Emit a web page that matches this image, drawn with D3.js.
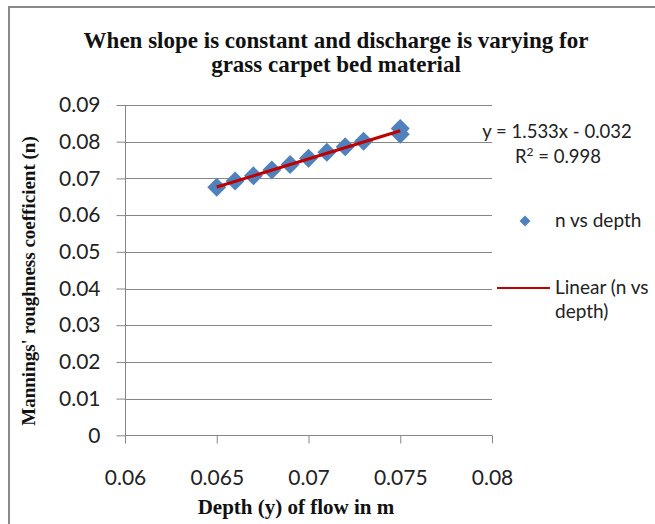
<!DOCTYPE html>
<html>
<head>
<meta charset="utf-8">
<script src="https://cdn.jsdelivr.net/npm/d3@7"></script>
<style>
  html, body { margin: 0; padding: 0; background: #fff; }
  svg { display: block; }
</style>
</head>
<body>
<svg id="chart" width="655" height="524"></svg>
<script>
// ---- data ----
const depth = [0.065, 0.066, 0.067, 0.068, 0.069, 0.070, 0.071, 0.072, 0.073, 0.075, 0.075];
const nValues = [0.0676, 0.0693, 0.0707, 0.0723, 0.0738, 0.0755, 0.0771, 0.0786, 0.0801, 0.0836, 0.0820];
const trendCoef = [1.533, -0.032]; // slope, intercept
const xTicks = [0.06, 0.065, 0.07, 0.075, 0.08];
const yTicks = [0, 0.01, 0.02, 0.03, 0.04, 0.05, 0.06, 0.07, 0.08, 0.09];
const titleLines = ["When slope is constant and discharge is varying for", "grass carpet bed material"];
const xLabel = "Depth (y) of flow in m";
const yLabel = "Mannings' roughness coefficient (n)";
const seriesName = "n vs depth";
const trendNameLines = ["Linear (n vs", "depth)"];

// ---- layout ----
const svg = d3.select("#chart");
const plot = {left: 125, right: 492, top: 105, bottom: 435.3};
const x = d3.scaleLinear().domain([0.06, 0.08]).range([plot.left, plot.right]);
const y = d3.scaleLinear().domain([0, 0.09]).range([plot.bottom, plot.top]);
const sans = "Lato, 'Open Sans', sans-serif";
const serif = "'Liberation Serif', 'DejaVu Serif', serif";
const gray = "#868686";

// outer frame
svg.append("rect").attr("x", 9).attr("y", 7).attr("width", 700).attr("height", 600)
  .attr("fill", "none").attr("stroke", "#8a8a8a").attr("stroke-width", 2);

// title
svg.append("text").attr("x", 336).attr("y", 48).attr("text-anchor", "middle")
  .attr("font-family", serif).attr("font-weight", "bold").attr("font-size", 23).attr("fill", "#111")
  .selectAll("tspan").data(titleLines).join("tspan")
  .attr("x", 336).attr("dy", (d, i) => i === 0 ? 0 : 24).text(d => d);

// gridlines
svg.append("g").selectAll("line").data(yTicks.slice(1)).join("line")
  .attr("x1", plot.left).attr("x2", plot.right)
  .attr("y1", d => Math.round(y(d)) + 0.5).attr("y2", d => Math.round(y(d)) + 0.5)
  .attr("stroke", gray).attr("stroke-width", 1);

// y axis
const yAxis = svg.append("g").attr("transform", `translate(${plot.left + 0.5},0)`)
  .call(d3.axisLeft(y).tickValues(yTicks).tickFormat(d => d === 0 ? "0" : d3.format(".2f")(d)).tickSize(9).tickPadding(16));
yAxis.select(".domain").attr("stroke", gray).attr("d", `M0,${plot.top}V${plot.bottom}`);
yAxis.selectAll(".tick line").attr("stroke", gray);
yAxis.selectAll(".tick text").attr("font-family", sans).attr("font-size", 21).attr("fill", "#222");

// x axis
const xAxis = svg.append("g").attr("transform", `translate(0,${Math.round(plot.bottom) + 0.5})`)
  .call(d3.axisBottom(x).tickValues(xTicks).tickFormat(d => String(+d.toFixed(3))).tickSize(8).tickPadding(27));
xAxis.select(".domain").attr("stroke", gray).attr("d", `M${plot.left},0H${plot.right}`);
xAxis.selectAll(".tick line").attr("stroke", gray);
xAxis.selectAll(".tick text").attr("font-family", sans).attr("font-size", 21).attr("fill", "#222");

// axis titles
svg.append("text").attr("x", 296).attr("y", 514).attr("text-anchor", "middle")
  .attr("font-family", serif).attr("font-weight", "bold").attr("font-size", 21).attr("fill", "#111").text(xLabel);
svg.append("text").attr("transform", "translate(35,281) rotate(-90)").attr("text-anchor", "middle")
  .attr("font-family", serif).attr("font-weight", "bold").attr("font-size", 19).attr("fill", "#111").text(yLabel);

// markers
const diamond = (cx, cy, r) => `M${cx},${cy - r}L${cx + r},${cy}L${cx},${cy + r}L${cx - r},${cy}Z`;
svg.append("g").selectAll("path").data(depth.map((d, i) => [d, nValues[i]])).join("path")
  .attr("d", d => diamond(x(d[0]), y(d[1]), 9.5))
  .attr("fill", "#4F81BD");

// trendline
const xr = d3.extent(depth);
svg.append("line")
  .attr("x1", x(xr[0])).attr("y1", y(trendCoef[0] * xr[0] + trendCoef[1]))
  .attr("x2", x(xr[1])).attr("y2", y(trendCoef[0] * xr[1] + trendCoef[1]))
  .attr("stroke", "#C00000").attr("stroke-width", 3);

// equation
svg.append("text").attr("x", 557).attr("y", 138).attr("text-anchor", "middle")
  .attr("font-family", sans).attr("font-size", 18.5).attr("fill", "#222")
  .text(`y = ${trendCoef[0]}x - ${Math.abs(trendCoef[1]).toFixed(3)}`);
const r2 = svg.append("text").attr("x", 558).attr("y", 163).attr("text-anchor", "middle")
  .attr("font-family", sans).attr("font-size", 18.5).attr("fill", "#222");
r2.append("tspan").text("R");
r2.append("tspan").attr("dy", -7).attr("font-size", 12).text("2");
r2.append("tspan").attr("dy", 7).text(" = 0.998");

// legend
svg.append("path").attr("d", diamond(525, 221, 5.5)).attr("fill", "#4F81BD");
svg.append("text").attr("x", 555).attr("y", 227).attr("font-family", sans).attr("font-size", 19)
  .attr("fill", "#222").text(seriesName);
svg.append("line").attr("x1", 497).attr("x2", 550).attr("y1", 288).attr("y2", 288)
  .attr("stroke", "#C00000").attr("stroke-width", 2);
svg.append("text").attr("font-family", sans).attr("font-size", 19).attr("fill", "#222")
  .selectAll("tspan").data(trendNameLines).join("tspan")
  .attr("x", 555).attr("y", (d, i) => 294 + i * 24).text(d => d);
</script>
</body>
</html>
